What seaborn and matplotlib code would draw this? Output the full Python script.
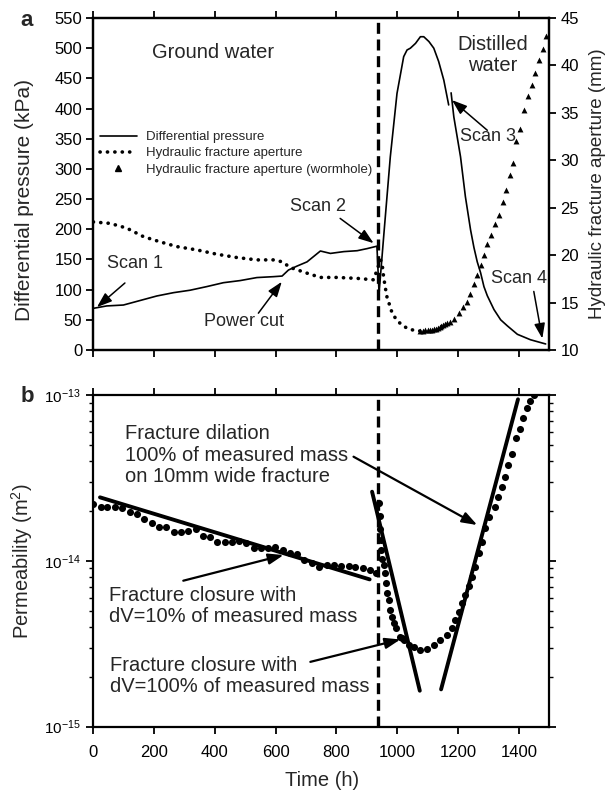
import numpy as np
import pandas as pd
import matplotlib
matplotlib.use("Agg")
import matplotlib.pyplot as plt
from matplotlib.lines import Line2D
from matplotlib.ticker import MultipleLocator, LogLocator, NullFormatter
import seaborn as sns

# ---------------- data ----------------
# Panel a: differential pressure (kPa), two segments (break at Scan 3)
time_p1 = [0, 44, 99, 154, 209, 264, 318, 373, 428, 483, 538, 593, 621, 642, 670,
           703, 725, 747, 780, 824, 868, 901, 933, 940, 956, 977, 999, 1021, 1032,
           1043, 1060, 1076, 1087, 1104, 1120, 1136, 1153, 1169]
pressure_1 = [69, 73, 74.5, 82, 89.5, 95, 99, 105, 111.5, 115, 120, 121.5, 122.5, 132.5, 139,
              146, 155, 164, 160, 163, 164.5, 168, 172, 94, 193, 320, 425, 486, 497,
              500, 508, 519, 519, 511, 500, 478, 447, 406]
time_p2 = [1177, 1186, 1208, 1224, 1241, 1252, 1263, 1274, 1285, 1296, 1318, 1340, 1362,
           1395, 1438, 1488]
pressure_2 = [426, 386, 320, 254, 199, 170, 146, 128, 105, 90, 67, 50, 40, 26, 17, 10]

# Hydraulic fracture aperture (mm)
time_ap = [0, 55, 110, 165, 220, 275, 341, 406, 472, 538, 593, 621, 648, 703, 747, 802,
           868, 922, 945, 950, 955, 961, 966, 975, 983, 997, 1016, 1038, 1060, 1076]
aperture = [23.5, 23.35, 22.85, 21.95, 21.4, 20.9, 20.55, 20.1, 19.75, 19.5, 19.5, 19.3,
            18.7, 18.1, 17.65, 17.65, 17.55, 17.4, 19.5, 19.1, 17.7, 16.5, 15.6, 14.7,
            13.9, 13.2, 12.6, 12.2, 12.05, 12.0]

# Hydraulic fracture aperture, wormhole (mm)
time_wh = [1076, 1084, 1092, 1100, 1107, 1114, 1120, 1127, 1133, 1139, 1145, 1151, 1158,
           1165, 1175, 1188, 1202, 1215, 1228, 1238, 1252, 1262, 1274, 1286, 1296, 1309,
           1323, 1334, 1347, 1358, 1370, 1381, 1392, 1405, 1416, 1431, 1442, 1454, 1465,
           1478, 1490]
aperture_wh = [12.0, 12.05, 12.1, 12.1, 12.1, 12.15, 12.2, 12.25, 12.3, 12.4, 12.5, 12.6,
               12.7, 12.8, 12.9, 13.3, 13.9, 14.5, 15.1, 15.9, 17.0, 17.9, 19.0, 20.0,
               21.15, 22.1, 23.3, 24.2, 25.6, 26.9, 28.5, 29.75, 32.0, 33.3, 35.3, 36.8,
               37.9, 39.2, 40.6, 41.7, 43.1]

# Panel b: permeability (m^2)
time_k = [0, 24, 46, 71, 96, 121, 143, 168, 192, 216, 239, 264, 288, 313, 337, 360, 384,
          408, 432, 456, 480, 503, 527, 551, 575, 598, 624, 648, 670, 692, 719, 744, 769,
          791, 815, 840, 862, 887, 911, 931, 940, 942, 944, 946, 948, 950, 955, 961, 964,
          966, 972, 977, 983, 988, 997, 1010, 1016, 1021, 1038, 1054, 1076, 1098, 1120,
          1142, 1164, 1180, 1191, 1202, 1213, 1224, 1235, 1246, 1257, 1268, 1279, 1290,
          1301, 1320, 1332, 1343, 1354, 1365, 1378, 1390, 1402, 1414, 1427, 1438, 1449]
perm = [2.203e-14, 2.104e-14, 2.104e-14, 2.118e-14, 2.070e-14, 1.977e-14, 1.905e-14,
        1.786e-14, 1.698e-14, 1.592e-14, 1.607e-14, 1.500e-14, 1.500e-14, 1.514e-14,
        1.549e-14, 1.413e-14, 1.396e-14, 1.303e-14, 1.303e-14, 1.303e-14, 1.318e-14,
        1.274e-14, 1.202e-14, 1.202e-14, 1.202e-14, 1.216e-14, 1.161e-14, 1.119e-14,
        1.099e-14, 1.012e-14, 9.66e-15, 9.23e-15, 9.44e-15, 9.44e-15, 9.31e-15, 9.31e-15,
        9.23e-15, 9.02e-15, 8.81e-15, 8.47e-15, 2.239e-14, 1.862e-14, 1.549e-14,
        1.334e-14, 1.161e-14, 1.023e-14, 9.44e-15, 8.41e-15, 7.31e-15, 6.37e-15,
        5.81e-15, 5.05e-15, 4.60e-15, 4.20e-15, 3.92e-15, 3.48e-15, 3.41e-15, 3.33e-15,
        3.10e-15, 3.03e-15, 2.92e-15, 2.96e-15, 3.10e-15, 3.33e-15, 3.56e-15, 3.92e-15,
        4.40e-15, 4.93e-15, 5.55e-15, 6.22e-15, 7.05e-15, 8.02e-15, 9.23e-15, 1.109e-14,
        1.303e-14, 1.570e-14, 1.845e-14, 2.118e-14, 2.415e-14, 2.799e-14, 3.192e-14,
        3.784e-14, 4.406e-14, 5.483e-14, 6.209e-14, 7.228e-14, 8.318e-14, 9.247e-14,
        1.000e-13]

# fitted trend lines (end points)
fit1_t, fit1_k = [22, 909], [2.415e-14, 7.73e-15]
fit2_t, fit2_k = [917, 1074], [2.612e-14, 1.648e-15]
fit3_t, fit3_k = [1144, 1397], [1.679e-15, 9.419e-14]

switch_time = 937  # ground water -> distilled water

xticks = [0, 200, 400, 600, 800, 1000, 1200, 1400]

# ---------------- style ----------------
sns.set_theme(style="ticks")
plt.rcParams["font.family"] = ["Liberation Sans", "DejaVu Sans"]
plt.rcParams["mathtext.fontset"] = "custom"
plt.rcParams["mathtext.rm"] = "Liberation Sans"
plt.rcParams["mathtext.it"] = "Liberation Sans:italic"
plt.rcParams["mathtext.bf"] = "Liberation Sans:bold"
plt.rcParams["axes.linewidth"] = 1.6
plt.rcParams["axes.edgecolor"] = "black"
plt.rcParams["xtick.color"] = "black"
plt.rcParams["ytick.color"] = "black"

W, H = 612, 793
fig = plt.figure(figsize=(W / 100, H / 100), dpi=100)
fig.patch.set_facecolor("white")

L, R = 93.3, 549.3
ax1 = fig.add_axes([L / W, 1 - 350 / H, (R - L) / W, (350 - 18) / H])
ax2 = fig.add_axes([L / W, 1 - 726.7 / H, (R - L) / W, (726.7 - 395) / H])
axr = ax1.twinx()

# ---------------- panel a ----------------
df_p = pd.DataFrame({
    "time": time_p1 + time_p2,
    "pressure": pressure_1 + pressure_2,
    "seg": [0] * len(time_p1) + [1] * len(time_p2),
})
sns.lineplot(data=df_p, x="time", y="pressure", units="seg", estimator=None,
             color="black", lw=1.2, ax=ax1, sort=False)

df_a = pd.DataFrame({"time": time_ap, "aperture": aperture})
sns.lineplot(data=df_a, x="time", y="aperture", estimator=None, color="black",
             lw=2.6, linestyle=(0, (0.05, 2.0)), dash_capstyle="round", ax=axr, sort=False)
df_w = pd.DataFrame({"time": time_wh, "aperture": aperture_wh})
sns.scatterplot(data=df_w, x="time", y="aperture", marker="^", color="black", s=18,
                edgecolor="black", linewidth=0, ax=axr)

ax1.axvline(switch_time, color="black", lw=2.4, linestyle=(0, (3.3, 1.7)), zorder=5)

ax1.set_xlim(0, 1500)
ax1.set_ylim(0, 550)
axr.set_ylim(10, 45)
ax1.set_xticks(xticks)
ax1.set_xticklabels([])
ax1.set_xlabel("")
axr.set_xlabel("")
ax1.yaxis.set_major_locator(MultipleLocator(50))
axr.yaxis.set_major_locator(MultipleLocator(5))
ax1.tick_params(axis="both", direction="out", length=5, width=1.3, labelsize=12,
                top=True, right=False, labelright=False, labeltop=False, pad=3)
axr.tick_params(axis="y", direction="out", length=5, width=1.3, labelsize=12, pad=3,
                left=False, labelleft=False, right=True, labelright=True)
for a in (ax1, axr):
    for s in a.spines.values():
        s.set_visible(True)
        s.set_linewidth(1.6)

ax1.set_ylabel("Differential pressure (kPa)", fontsize=15, va="center", ha="center")
ax1.yaxis.set_label_coords((25 - L) / (R - L), (350 - 200) / 332)
axr.set_ylabel("Hydraulic fracture aperture (mm)", fontsize=13.5, va="center", ha="center")
axr.yaxis.set_label_coords((597 - L) / (R - L), (350 - 183.5) / 332)

handles = [
    Line2D([], [], color="black", lw=1.2),
    Line2D([], [], color="black", lw=2.6, linestyle=(0, (0.05, 2.0)), dash_capstyle="round"),
    Line2D([], [], color="black", marker="^", linestyle="none", markersize=4.5),
]
labels = ["Differential pressure", "Hydraulic fracture aperture",
          "Hydraulic fracture aperture (wormhole)"]
ax1.legend(handles, labels, loc="upper left", bbox_to_anchor=((100 - L) / (R - L), (350 - 131) / 332),
           frameon=False, fontsize=9.5, handlelength=2.8, handletextpad=0.7,
           labelspacing=0.3, borderaxespad=0, borderpad=0, numpoints=1)

ax1.text(393, 493, "Ground water", fontsize=14.5, ha="center", va="center")
ax1.text(1315, 489, "Distilled\nwater", fontsize=14.5, ha="center", va="center",
         linespacing=1.1)

arrow_kw = dict(arrowstyle="-|>,head_length=0.7,head_width=0.25", color="black",
                lw=1.1, shrinkA=0, shrinkB=0, mutation_scale=13)
ann_a = [
    ("Scan 1", (137, 144), (104, 111), (12, 71)),
    ("Power cut", (495, 47), (543, 61), (620, 113)),
    ("Scan 2", (738, 237), (812, 218), (922, 177)),
    ("Scan 3", (1298, 353), (1296, 364), (1180, 414)),
    ("Scan 4", (1399, 119), (1449, 97), (1477, 19)),
]
for txt, pos, tail, head in ann_a:
    ax1.text(pos[0], pos[1], txt, fontsize=13, ha="center", va="center")
    ax1.annotate("", xy=head, xytext=tail, arrowprops=arrow_kw)

ax1.set_zorder(axr.get_zorder() + 1)
ax1.patch.set_visible(False)

# ---------------- panel b ----------------
df_k = pd.DataFrame({"time": time_k, "perm": perm})
sns.scatterplot(data=df_k, x="time", y="perm", color="black", s=26, linewidth=0, ax=ax2)
for ft, fk in ((fit1_t, fit1_k), (fit2_t, fit2_k), (fit3_t, fit3_k)):
    sns.lineplot(x=ft, y=fk, color="black", lw=2.8, ax=ax2, estimator=None)
ax2.axvline(switch_time, color="black", lw=2.4, linestyle=(0, (3.3, 1.7)), zorder=5)

ax2.set_yscale("log")
ax2.set_xlim(0, 1500)
ax2.set_ylim(1e-15, 1e-13)
ax2.set_xticks(xticks)
ax2.yaxis.set_major_locator(LogLocator(base=10))
ax2.yaxis.set_minor_locator(LogLocator(base=10, subs=np.arange(2, 10)))
ax2.yaxis.set_minor_formatter(NullFormatter())
ax2.tick_params(axis="both", which="major", direction="out", length=5, width=1.3,
                top=True, right=True, labeltop=False, labelright=False, labelsize=12)
ax2.tick_params(axis="x", which="major", pad=8)
ax2.tick_params(axis="y", which="minor", direction="out", length=3, width=1.0,
                left=True, right=True)
ax2.tick_params(axis="y", which="major", labelsize=11, pad=4)
for s in ax2.spines.values():
    s.set_visible(True)
    s.set_linewidth(1.6)

ax2.set_xlabel("Time (h)", fontsize=14.5)
ax2.xaxis.set_label_coords((322 - L) / (R - L), -(780 - 726.7) / 331.7)
ax2.xaxis.label.set_va("center")
ax2.set_ylabel("Permeability (m$^2$)", fontsize=14.5, va="center", ha="center")
ax2.yaxis.set_label_coords((22 - L) / (R - L), 0.498)

ax2.text(105, 4.345e-14, "Fracture dilation\n100% of measured mass\non 10mm wide fracture",
         fontsize=14.5, ha="left", va="center", linespacing=1.15)
ax2.text(52, 5.37e-15, "Fracture closure with\ndV=10% of measured mass",
         fontsize=14.5, ha="left", va="center", linespacing=1.15)
ax2.text(55, 2.03e-15, "Fracture closure with\ndV=100% of measured mass",
         fontsize=14.5, ha="left", va="center", linespacing=1.15)
arrow_kw_b = dict(arrow_kw, lw=1.6)
ax2.annotate("", xy=(1263, 1.644e-14), xytext=(856, 4.246e-14), arrowprops=arrow_kw_b)
ax2.annotate("", xy=(626, 1.084e-14), xytext=(296, 7.59e-15), arrowprops=arrow_kw_b)
ax2.annotate("", xy=(1010, 3.357e-15), xytext=(714, 2.46e-15), arrowprops=arrow_kw_b)

fig.text(27 / W, 1 - 20 / H, "a", fontsize=16, fontweight="bold", ha="center", va="center")
fig.text(27 / W, 1 - 397 / H, "b", fontsize=16, fontweight="bold", ha="center", va="center")

fig.savefig("out.png", dpi=100, facecolor="white")
